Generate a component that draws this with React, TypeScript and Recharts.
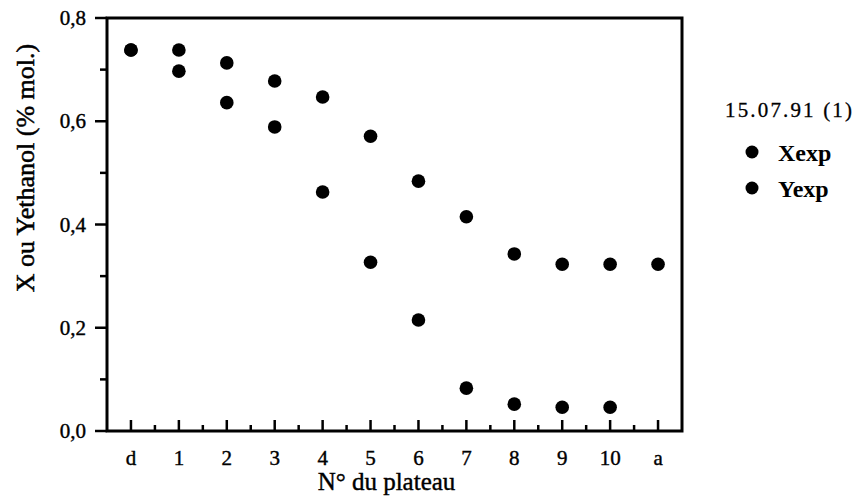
import React from 'react';
import { ScatterChart, Scatter, XAxis, YAxis, ReferenceArea, Legend } from 'recharts';

// ---- data ----
const plateaux = ['d', '1', '2', '3', '4', '5', '6', '7', '8', '9', '10', 'a'];
const xexpValues: (number | null)[] = [0.738, 0.697, 0.636, 0.589, 0.463, 0.327, 0.215, 0.083, 0.052, 0.046, 0.046, null];
const yexpValues: (number | null)[] = [0.738, 0.738, 0.713, 0.678, 0.647, 0.571, 0.484, 0.415, 0.343, 0.323, 0.323, 0.323];
const yTickValues = [0, 0.1, 0.2, 0.3, 0.4, 0.5, 0.6, 0.7, 0.8];
const yMajorTicks = [0, 0.2, 0.4, 0.6, 0.8];
const legendTitle = '15.07.91  (1)';
const seriesNames = ['Xexp', 'Yexp'];
const xTitle = 'N° du plateau';
const yTitle = 'X ou Yethanol (% mol.)';

const FONT = '"Liberation Serif", "Times New Roman", Times, serif';

const toPoints = (vals: (number | null)[]) =>
  vals.map((v, i) => (v == null ? null : { pos: i, value: v })).filter(Boolean) as { pos: number; value: number }[];

const xData = toPoints(xexpValues);
const yData = toPoints(yexpValues);

const xTicks: number[] = plateaux.flatMap((_, i) => (i < plateaux.length - 1 ? [i, i + 0.5] : [i]));

const XTick = (props: any) => {
  const { x, y, payload } = props;
  const v = payload.value as number;
  const major = Number.isInteger(v);
  return (
    <g>
      <line x1={x} x2={x} y1={y} y2={y - (major ? 11 : 6)} stroke="#000" strokeWidth={2.5} />
      {major && (
        <text x={x} y={y + 34} textAnchor="middle" fontFamily={FONT} fontSize={21} fill="#000" stroke="#000" strokeWidth={0.4}>
          {plateaux[v]}
        </text>
      )}
    </g>
  );
};

const YTick = (props: any) => {
  const { x, y, payload } = props;
  const v = payload.value as number;
  const major = yMajorTicks.some((m) => Math.abs(m - v) < 1e-9);
  return (
    <g>
      <line x1={x} x2={x - (major ? 12 : 7)} y1={y} y2={y} stroke="#000" strokeWidth={2.5} />
      {major && (
        <text x={x - 21} y={y + 7} textAnchor="end" fontFamily={FONT} fontSize={21} fill="#000" stroke="#000" strokeWidth={0.4}>
          {v.toFixed(1).replace('.', ',')}
        </text>
      )}
    </g>
  );
};

const Dot = (props: any) => {
  const { cx, cy } = props;
  return <circle cx={cx} cy={cy} r={6.8} fill="#000" />;
};

const renderLegend = (props: any) => {
  const payload = props.payload || [];
  return (
    <svg width={144} height={120} style={{ display: 'block' }}>
      <text x={10} y={22} fontFamily={FONT} fontSize={21} fill="#000" textLength={127} lengthAdjust="spacing" stroke="#000" strokeWidth={0.3}>
        {legendTitle}
      </text>
      {payload.map((entry: any, i: number) => (
        <g key={entry.value}>
          <circle cx={37} cy={57 + i * 36} r={6.5} fill="#000" />
          <text x={63} y={66 + i * 36} fontFamily={FONT} fontSize={24} fontWeight="bold" fill="#000">
            {entry.value}
          </text>
        </g>
      ))}
    </svg>
  );
};

export default function App() {
  return (
    <div style={{ position: 'absolute', left: 0, top: 0, width: 859, height: 503, background: '#fff' }}>
      <ScatterChart width={859} height={503} margin={{ top: 18, right: 177, bottom: 0, left: 0 }}>
        <XAxis
          type="number"
          dataKey="pos"
          domain={[-0.5, plateaux.length - 0.5]}
          ticks={xTicks}
          interval={0}
          height={72}
          axisLine={false}
          tickLine={false}
          tickSize={0}
          tickMargin={0}
          tick={<XTick />}
          allowDecimals
          label={{
            content: (p: any) => {
              const vb = p.viewBox || {};
              return (
                <text
                  x={vb.x + vb.width / 2 - 8}
                  y={vb.y + 59}
                  textAnchor="middle"
                  fontFamily={FONT}
                  fontSize={25}
                  fill="#000"
                  stroke="#000"
                  strokeWidth={0.4}
                >
                  {xTitle}
                </text>
              );
            },
          }}
        />
        <YAxis
          type="number"
          dataKey="value"
          domain={[0, 0.8]}
          ticks={yTickValues}
          interval={0}
          width={107}
          axisLine={false}
          tickLine={false}
          tickSize={0}
          tickMargin={0}
          tick={<YTick />}
          label={{
            content: (p: any) => {
              const vb = p.viewBox || {};
              const cx = vb.x + 34;
              const cy = 168;
              return (
                <text
                  x={cx}
                  y={cy}
                  transform={`rotate(-90, ${cx}, ${cy})`}
                  textAnchor="middle"
                  fontFamily={FONT}
                  fontSize={26}
                  fill="#000"
                  stroke="#000"
                  strokeWidth={0.5}
                >
                  {yTitle}
                </text>
              );
            },
          }}
        />
        <ReferenceArea
          x1={-0.5}
          x2={plateaux.length - 0.5}
          y1={0}
          y2={0.8}
          fill="none"
          fillOpacity={0}
          stroke="#000"
          strokeWidth={3}
          strokeOpacity={1}
          ifOverflow="visible"
        />
        <Scatter name={seriesNames[0]} data={xData} fill="#000" shape={<Dot />} isAnimationActive={false} legendType="circle" />
        <Scatter name={seriesNames[1]} data={yData} fill="#000" shape={<Dot />} isAnimationActive={false} legendType="circle" />
        <Legend
          layout="horizontal"
          verticalAlign="middle"
          align="center"
          content={renderLegend}
          wrapperStyle={{ position: 'absolute', left: 715, top: 95, width: 144, height: 120 }}
        />
      </ScatterChart>
    </div>
  );
}
